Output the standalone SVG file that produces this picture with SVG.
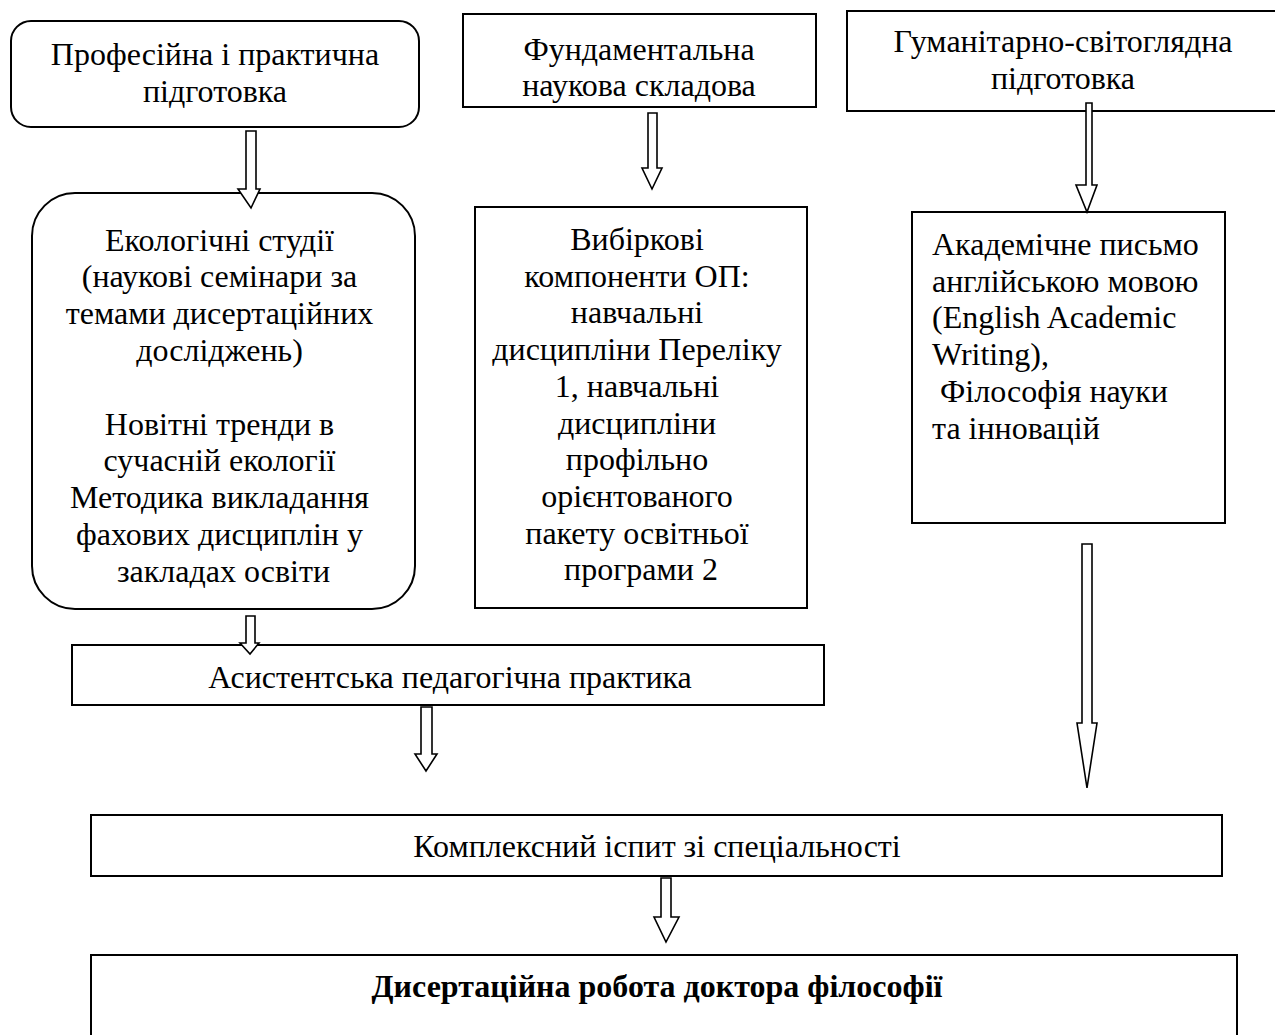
<svg xmlns="http://www.w3.org/2000/svg" width="1275" height="1035" viewBox="0 0 1275 1035">
<style>
.box{fill:#fff;stroke:#000;stroke-width:2}
.t{font-family:"Liberation Serif","Times New Roman",serif;font-size:32px;fill:#000}
.c{text-anchor:middle}
.b{font-weight:bold}
.arr{fill:#fff;stroke:#000;stroke-width:1.6;stroke-linejoin:miter}
</style>
<rect width="1275" height="1035" fill="#fff"/>
<g id="n1">
<rect class="box" x="11" y="21" width="408" height="106" rx="20" ry="20"/>
<text class="t c" x="215" y="64.5">Професійна і практична</text>
<text class="t c" x="215" y="102">підготовка</text>
</g>
<g id="n2">
<rect class="box" x="463" y="14" width="353" height="93"/>
<text class="t c" x="639" y="60">Фундаментальна</text>
<text class="t c" x="639" y="96">наукова складова</text>
</g>
<g id="n3">
<rect class="box" x="847" y="11" width="440" height="100"/>
<text class="t c" x="1063" y="52">Гуманітарно-світоглядна</text>
<text class="t c" x="1063" y="89">підготовка</text>
</g>
<g id="n4">
<rect class="box" x="32" y="193" width="383" height="416" rx="43" ry="43"/>
<text class="t c" x="223.5">
<tspan x="223.5" y="250.5">Екологічні студії</tspan>
<tspan x="223.5" y="287.3">(наукові семінари за</tspan>
<tspan x="223.5" y="324.1">темами дисертаційних</tspan>
<tspan x="223.5" y="360.9">досліджень)</tspan>
<tspan x="223.5" y="434.5">Новітні тренди в</tspan>
<tspan x="223.5" y="471.3">сучасній екології</tspan>
<tspan x="223.5" y="508.1">Методика викладання</tspan>
<tspan x="223.5" y="544.9">фахових дисциплін у</tspan>
<tspan x="223.5" y="581.7">закладах освіти</tspan>
</text>
</g>
<g id="n5">
<rect class="box" x="475" y="207" width="332" height="401"/>
<text class="t c" x="641">
<tspan x="641" y="250">Вибіркові</tspan>
<tspan x="641" y="286.7">компоненти ОП:</tspan>
<tspan x="641" y="323.4">навчальні</tspan>
<tspan x="641" y="360.1">дисципліни Переліку</tspan>
<tspan x="641" y="396.8">1, навчальні</tspan>
<tspan x="641" y="433.5">дисципліни</tspan>
<tspan x="641" y="470.2">профільно</tspan>
<tspan x="641" y="506.9">орієнтованого</tspan>
<tspan x="641" y="543.6">пакету освітньої</tspan>
<tspan x="641" y="580.3">програми 2</tspan>
</text>
</g>
<g id="n6">
<rect class="box" x="912" y="212" width="313" height="311"/>
<text class="t">
<tspan x="932" y="255">Академічне письмо</tspan>
<tspan x="932" y="291.7">англійською мовою</tspan>
<tspan x="932" y="328.4">(English Academic</tspan>
<tspan x="932" y="365.1">Writing),</tspan>
<tspan x="940" y="401.8">Філософія науки</tspan>
<tspan x="932" y="438.5">та інновацій</tspan>
</text>
</g>
<g id="n7">
<rect class="box" x="72" y="645" width="752" height="60"/>
<text class="t c" x="450" y="688">Асистентська педагогічна практика</text>
</g>
<g id="n8">
<rect class="box" x="91" y="815" width="1131" height="61"/>
<text class="t c" x="657" y="857">Комплексний іспит зі спеціальності</text>
</g>
<g id="n9">
<rect class="box" x="91" y="955" width="1146" height="100"/>
<text class="t c b" x="657" y="997">Дисертаційна робота доктора філософії</text>
</g>
<g id="connectors">
<polygon class="arr" points="246,131 256,131 256,189 260,189 251,208 238,189 246,189"/>
<polygon class="arr" points="648,113 657,113 657,168 662,168 652,189 642,168 648,168"/>
<polygon class="arr" points="1086,103 1092,103 1092,185 1097,185 1087,212 1076,185 1086,185"/>
<polygon class="arr" points="246,616 255,616 255,643 259,643 250,654 240,643 246,643"/>
<polygon class="arr" points="421,707 432,707 432,754 437,754 426,771 415,754 421,754"/>
<polygon class="arr" points="1082,544 1092,544 1092,723 1097,723 1087,788 1077,723 1082,723"/>
<polygon class="arr" points="661,878 671,878 671,917 679,917 666,942 654,917 661,917"/>
</g>
</svg>
